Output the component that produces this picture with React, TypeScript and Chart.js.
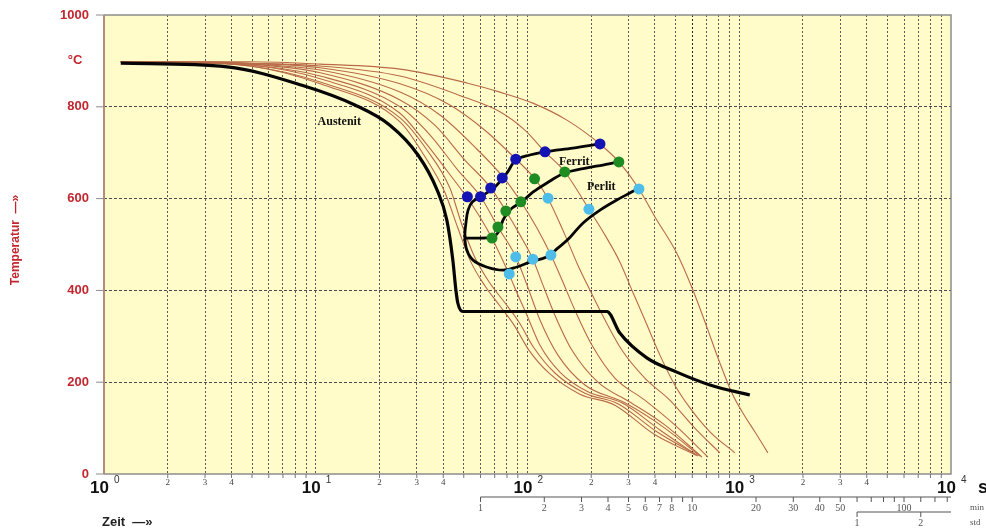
import React, { useEffect, useRef } from "react";
import { Chart, registerables } from "chart.js";

Chart.register(...registerables);

// Austenite boundary / martensite line (time in s, temperature in °C)
const austenitTime = [1.2, 3.81, 8.61, 15.3, 22.4, 30.4, 37.4, 41.6, 44.4, 45.9, 46.9, 49.5, 237, 273, 366, 507, 727, 1122];
const austenitTemp = [895, 887, 847, 804, 760, 695, 619, 553, 466, 401, 372, 354, 354, 307, 253, 222, 194, 172];

// Ferrite start line with the nose, closing along the pearlite end
const outerLineTime = [220, 164, 121, 102.6, 88, 80, 70, 62, 55, 52.4, 51.2, 50.6, 51.7, 55.3, 64, 76.6, 89, 103, 123, 139, 159, 183, 220, 264, 304, 332];
const outerLineTemp = [719, 710, 702, 695, 684, 656, 625, 608, 593, 575, 547, 516, 488, 466, 451, 444, 451, 462, 473, 492, 516, 547, 575, 597, 612, 621];

// Ferrite end / pearlite start line
const innerLineTime = [50.6, 59.6, 67.9, 73.3, 76.6, 82.6, 94, 106, 123.5, 147, 191, 227, 270];
const innerLineTemp = [514, 514, 516, 529, 553, 575, 593, 614, 634, 654, 667, 673, 680];

// Transformation points on the cooling curves
const ferritStartTime = [52, 60, 67, 76, 88, 121, 220];
const ferritStartTemp = [604, 604, 623, 645, 686, 702, 719];
const perlitStartTime = [68, 72.5, 79, 93, 108, 150, 270];
const perlitStartTemp = [514, 538, 573, 593, 643, 658, 680];
const perlitEndTime = [82, 88, 106, 129, 125, 195, 336];
const perlitEndTemp = [436, 473, 468, 477, 601, 577, 621];

// Cooling curves, slowest first
const coolingTimes = [
  [1.2, 2.05, 4.89, 10.5, 25, 51.7, 74.1, 106, 153.5, 219.7, 270, 336, 400, 507, 604, 703, 810, 933, 1040, 1185, 1365],
  [1.2, 2.05, 4.89, 10.5, 25, 51.7, 74.1, 97.2, 120.8, 150.2, 195, 232, 273, 311, 358, 422, 496, 585, 727, 954],
  [1.2, 2.05, 4.89, 10.5, 25, 43, 62.9, 88.2, 108.4, 124.8, 150.2, 173, 197, 232, 279, 358, 470, 617, 810],
  [1.2, 2.05, 4.89, 10.5, 25, 38.6, 56.5, 77.3, 93.1, 110.8, 129, 145.4, 167.4, 201.4, 258.6, 358, 496, 711],
  [1.2, 2.05, 4.89, 10.5, 25, 36.5, 50.6, 67.2, 79.1, 92.1, 106.1, 118.2, 134.7, 162, 215, 304, 445, 666],
  [1.2, 2.05, 4.89, 10.5, 25, 34.6, 46.9, 60.3, 72.5, 88.2, 99.4, 114.4, 139.2, 186.7, 288, 445, 652],
  [1.2, 2.05, 4.89, 10.5, 25, 32.8, 42.1, 51.7, 59.6, 67.9, 81.7, 90.1, 99.4, 114.4, 142.2, 193, 279, 422, 638],
  [1.2, 2.05, 4.89, 10.5, 25, 33.5, 43, 49, 56.5, 66.4, 78.2, 91.1, 107.2, 134.7, 186.7, 267, 408, 631],
  [1.2, 2.05, 4.89, 10.5, 25, 32.4, 40.7, 46.9, 53.5, 62.9, 74.1, 86.3, 101.5, 127.6, 176.8, 258.6, 395, 624],
];
const coolingTemps = [
  [898, 898, 898, 893, 882, 852, 832, 808, 771, 719, 680, 621, 560, 481, 401, 320, 242, 172, 133, 92, 46],
  [898, 898, 895, 889, 867, 819, 789, 749, 702, 658, 577, 521, 462, 401, 336, 259, 194, 144, 92, 46],
  [898, 898, 895, 885, 850, 804, 749, 686, 643, 601, 521, 455, 401, 336, 270, 209, 161, 100, 46],
  [898, 897, 893, 880, 832, 782, 712, 645, 593, 536, 477, 423, 357, 281, 209, 161, 107, 37],
  [898, 897, 893, 874, 815, 760, 684, 623, 573, 521, 468, 412, 346, 270, 200, 157, 107, 37],
  [898, 897, 891, 867, 800, 739, 662, 603, 538, 473, 412, 336, 259, 194, 155, 100, 39],
  [898, 897, 891, 861, 786, 723, 658, 603, 560, 514, 436, 390, 346, 281, 222, 179, 155, 96, 39],
  [898, 897, 889, 854, 776, 706, 623, 543, 471, 416, 373, 331, 275, 220, 176, 153, 92, 41],
  [898, 897, 889, 850, 767, 695, 614, 536, 466, 410, 366, 325, 270, 218, 174, 150, 87, 41],
];

// Axis ticks
const yTicks = [0, 200, 400, 600, 800, 1000];
const decades = [1, 10, 100, 1000, 10000];
const minorSteps = [2, 3, 4, 5, 6, 7, 8, 9];
const minorLabels = [2, 3, 4];
const minuteTicks = [1, 2, 3, 4, 5, 6, 7, 8, 9, 10, 20, 30, 40, 50, 60, 70, 80, 90, 100, 120, 140, 160];
const minuteLabels = [1, 2, 3, 4, 5, 6, 7, 8, 10, 20, 30, 40, 50, 100];
const hourLabels = [1, 2];

// Phase labels
const phaseNames = ["Austenit", "Ferrit", "Perlit"];
const phaseTime = [10.2, 140.7, 190.8];
const phaseTemp = [767, 681, 625];

const RED = "#C1272F";
const SANS = '"Liberation Sans", Arial, sans-serif';
const SERIF = '"Liberation Serif", "Times New Roman", serif';

const gridTimes: number[] = [];
decades.forEach((d) => {
  gridTimes.push(d);
  if (d < 10000) minorSteps.forEach((m) => gridTimes.push(m * d));
});

const xy = (ts: number[], vs: number[]) => ts.map((t, i) => ({ x: t, y: vs[i] }));

const diagramPlugin = {
  id: "zta-decor",
  beforeDraw(chart: any) {
    const { ctx, chartArea: a } = chart;
    ctx.save();
    ctx.fillStyle = "#FFFCC9";
    ctx.fillRect(a.left, a.top, a.right - a.left, a.bottom - a.top);
    ctx.restore();
  },
  afterDatasetsDraw(chart: any) {
    const { ctx } = chart;
    const xs = chart.scales.x;
    const ys = chart.scales.y;
    ctx.save();
    ctx.fillStyle = "#111";
    ctx.font = `bold 12px ${SERIF}`;
    ctx.textAlign = "left";
    ctx.textBaseline = "middle";
    phaseNames.forEach((n, i) => {
      ctx.fillText(n, xs.getPixelForValue(phaseTime[i]), ys.getPixelForValue(phaseTemp[i]));
    });
    ctx.restore();
  },
  afterDraw(chart: any) {
    const { ctx, chartArea: a } = chart;
    const xs = chart.scales.x;
    const ys = chart.scales.y;
    ctx.save();

    // frame
    ctx.lineWidth = 1.5;
    ctx.strokeStyle = "#8C8C8C";
    ctx.beginPath();
    ctx.moveTo(a.left, a.top);
    ctx.lineTo(a.right, a.top);
    ctx.lineTo(a.right, a.bottom);
    ctx.lineTo(a.left, a.bottom);
    ctx.stroke();
    ctx.strokeStyle = "#B48C7C";
    ctx.lineWidth = 2;
    ctx.beginPath();
    ctx.moveTo(a.left, a.top);
    ctx.lineTo(a.left, a.bottom);
    ctx.stroke();

    // y axis labels and tick marks
    ctx.font = `bold 13px ${SANS}`;
    ctx.fillStyle = RED;
    ctx.textAlign = "right";
    ctx.textBaseline = "middle";
    yTicks.forEach((v) => {
      const py = ys.getPixelForValue(v);
      ctx.fillText(String(v), a.left - 15, py);
      ctx.strokeStyle = "#8C8C8C";
      ctx.lineWidth = 1;
      ctx.beginPath();
      ctx.moveTo(a.left - 8, py);
      ctx.lineTo(a.left, py);
      ctx.stroke();
    });
    ctx.textAlign = "center";
    ctx.fillText("°C", 75, ys.getPixelForValue(900));

    ctx.save();
    ctx.translate(16, 240);
    ctx.rotate(-Math.PI / 2);
    ctx.font = `bold 12px ${SANS}`;
    ctx.fillText("Temperatur  —»", 0, 0);
    ctx.restore();

    // x axis: decades, minor labels and ticks
    ctx.strokeStyle = "#777";
    ctx.lineWidth = 1;
    decades.forEach((d, k) => {
      const px = xs.getPixelForValue(d);
      ctx.fillStyle = "#111";
      ctx.font = `bold 17px ${SANS}`;
      ctx.textAlign = "right";
      ctx.textBaseline = "middle";
      ctx.fillText("10", px + 5, a.bottom + 14);
      ctx.font = `10px ${SANS}`;
      ctx.fillStyle = "#333";
      ctx.textAlign = "left";
      ctx.fillText(String(k), px + 10, a.bottom + 6);
      if (d < 10000) {
        minorSteps.forEach((m) => {
          const mx = xs.getPixelForValue(m * d);
          ctx.beginPath();
          ctx.moveTo(mx, a.bottom);
          ctx.lineTo(mx, a.bottom + 4);
          ctx.stroke();
        });
        ctx.font = `9px ${SERIF}`;
        ctx.fillStyle = "#444";
        ctx.textAlign = "center";
        minorLabels.forEach((m) => {
          ctx.fillText(String(m), xs.getPixelForValue(m * d), a.bottom + 9);
        });
      }
    });
    ctx.fillStyle = "#111";
    ctx.font = `bold 18px ${SANS}`;
    ctx.textAlign = "center";
    ctx.fillText("s", 983, a.bottom + 14);

    ctx.font = `bold 13px ${SANS}`;
    ctx.fillStyle = "#222";
    ctx.textAlign = "left";
    ctx.fillText("Zeit  —»", 102, 522);

    // minutes scale
    const yMin = a.bottom + 23;
    ctx.strokeStyle = "#555";
    ctx.lineWidth = 1;
    ctx.beginPath();
    ctx.moveTo(xs.getPixelForValue(60), yMin);
    ctx.lineTo(a.right, yMin);
    ctx.stroke();
    minuteTicks.forEach((m) => {
      const px = xs.getPixelForValue(m * 60);
      ctx.beginPath();
      ctx.moveTo(px, yMin);
      ctx.lineTo(px, yMin + 5);
      ctx.stroke();
    });
    ctx.font = `10px ${SERIF}`;
    ctx.fillStyle = "#555";
    ctx.textAlign = "center";
    minuteLabels.forEach((m) => {
      ctx.fillText(String(m), xs.getPixelForValue(m * 60), yMin + 11);
    });
    ctx.font = `9px ${SERIF}`;
    ctx.textAlign = "left";
    ctx.fillText("min", 970, yMin + 11);

    // hours scale
    const yStd = a.bottom + 38;
    ctx.beginPath();
    ctx.moveTo(xs.getPixelForValue(3600), yStd);
    ctx.lineTo(a.right, yStd);
    ctx.stroke();
    ctx.font = `10px ${SERIF}`;
    ctx.textAlign = "center";
    hourLabels.forEach((h) => {
      const px = xs.getPixelForValue(h * 3600);
      ctx.beginPath();
      ctx.moveTo(px, yStd);
      ctx.lineTo(px, yStd + 5);
      ctx.stroke();
      ctx.fillText(String(h), px, yStd + 11);
    });
    ctx.font = `9px ${SERIF}`;
    ctx.textAlign = "left";
    ctx.fillText("std", 970, yStd + 11);

    ctx.restore();
  },
};

export default function App() {
  const ref = useRef<HTMLCanvasElement | null>(null);

  useEffect(() => {
    if (!ref.current) return;
    const cooling = coolingTimes.map((ts, i) => ({
      data: xy(ts, coolingTemps[i]),
      showLine: true,
      borderColor: "#B96A48",
      borderWidth: 1.1,
      pointRadius: 0,
      cubicInterpolationMode: "monotone",
      order: 3,
    }));
    const dots = (ts: number[], vs: number[], color: string) => ({
      data: xy(ts, vs),
      showLine: false,
      pointRadius: 5.5,
      pointBackgroundColor: color,
      pointBorderWidth: 0,
      order: 0,
    });
    const chart = new Chart(ref.current, {
      type: "scatter",
      data: {
        datasets: [
          dots(ferritStartTime, ferritStartTemp, "#1414B4"),
          dots(perlitStartTime, perlitStartTemp, "#1E8C23"),
          dots(perlitEndTime, perlitEndTemp, "#4EBDE9"),
          {
            data: xy(austenitTime, austenitTemp),
            showLine: true,
            borderColor: "#050505",
            borderWidth: 3.2,
            pointRadius: 0,
            cubicInterpolationMode: "monotone",
            order: 1,
          },
          {
            data: xy(outerLineTime, outerLineTemp),
            showLine: true,
            borderColor: "#050505",
            borderWidth: 2.8,
            pointRadius: 0,
            tension: 0.35,
            order: 1,
          },
          {
            data: xy(innerLineTime, innerLineTemp),
            showLine: true,
            borderColor: "#050505",
            borderWidth: 2.8,
            pointRadius: 0,
            cubicInterpolationMode: "monotone",
            order: 1,
          },
          ...cooling,
        ] as any,
      },
      options: {
        animation: false,
        responsive: false,
        devicePixelRatio: 1,
        events: [],
        layout: { padding: { left: 104, top: 15, right: 35, bottom: 57 } },
        plugins: { legend: { display: false }, tooltip: { enabled: false } },
        scales: {
          x: {
            type: "logarithmic",
            min: 1,
            max: 10000,
            afterBuildTicks: (s: any) => {
              s.ticks = gridTimes.map((v) => ({ value: v }));
            },
            ticks: { display: false },
            grid: {
              drawTicks: false,
              lineWidth: 1,
              color: (c: any) =>
                c.tick && (c.tick.value === 1 || c.tick.value === 10000)
                  ? "rgba(0,0,0,0)"
                  : c.tick && c.tick.value === 600
                  ? "#222"
                  : "#5A5A5A",
            },
            border: { display: false, dash: [2, 2] },
          },
          y: {
            type: "linear",
            min: 0,
            max: 1000,
            afterBuildTicks: (s: any) => {
              s.ticks = yTicks.map((v) => ({ value: v }));
            },
            ticks: { display: false },
            grid: {
              drawTicks: false,
              lineWidth: 1,
              color: (c: any) =>
                c.tick && (c.tick.value === 0 || c.tick.value === 1000) ? "rgba(0,0,0,0)" : "#4A4A4A",
            },
            border: { display: false, dash: [3, 2] },
          },
        },
      } as any,
      plugins: [diagramPlugin],
    });
    return () => chart.destroy();
  }, []);

  return (
    <div style={{ position: "absolute", left: 0, top: 0, width: 986, height: 531, background: "#fff" }}>
      <canvas ref={ref} width={986} height={531} style={{ display: "block" }} />
    </div>
  );
}
